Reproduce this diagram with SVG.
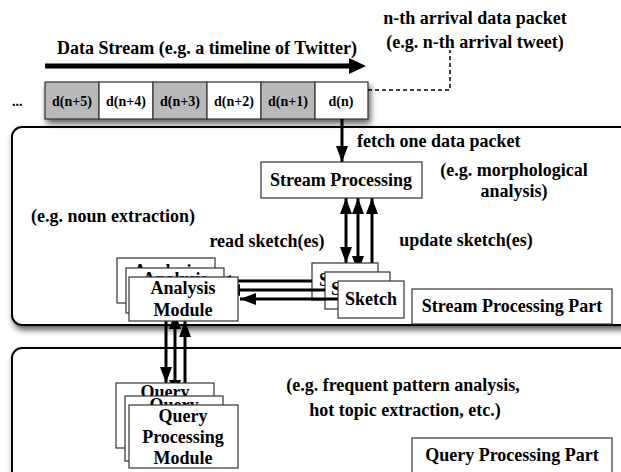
<svg xmlns="http://www.w3.org/2000/svg" width="621" height="472" viewBox="0 0 621 472">
<style>
text{font-family:"Liberation Serif","Times New Roman",serif;font-weight:bold;font-size:18px;fill:#000}
.c{text-anchor:middle}
.cell text{font-size:14px}
.box{fill:#fff;stroke:#333;stroke-width:1.2}
.gray{fill:#b9b9b9;stroke:#333;stroke-width:1.2}
.panel{fill:#fff;stroke:#000;stroke-width:2}
.ln{stroke:#000;stroke-width:3;fill:none}
</style>
<defs>
<filter id="sh" x="-5%" y="-10%" width="115%" height="140%">
<feGaussianBlur in="SourceAlpha" stdDeviation="3"/>
<feOffset dx="2" dy="4" result="o"/>
<feComponentTransfer><feFuncA type="linear" slope="0.65"/></feComponentTransfer>
<feMerge><feMergeNode/><feMergeNode in="SourceGraphic"/></feMerge>
</filter>
<marker id="ah" viewBox="0 0 16 12" refX="16" refY="6" markerWidth="16" markerHeight="12" markerUnits="userSpaceOnUse" orient="auto-start-reverse">
<path d="M0,0 L16,6 L0,12 z" fill="#000"/>
</marker>
</defs>

<!-- panels -->
<g id="stream-part-panel">
<rect class="panel" x="12" y="127" width="620" height="198" rx="10" filter="url(#sh)"/>
</g>
<g id="query-part-panel">
<rect class="panel" x="12" y="348" width="620" height="140" rx="10" filter="url(#sh)"/>
</g>

<!-- data stream header -->
<g id="data-stream">
<text x="57" y="54">Data Stream (e.g. a timeline of Twitter)</text>
<line x1="45" y1="66" x2="350" y2="66" stroke="#000" stroke-width="5"/>
<polygon points="349,58 366,66 349,74" fill="#000"/>
</g>

<g id="arrival-label">
<text class="c" x="475" y="24">n-th arrival data packet</text>
<text class="c" x="475" y="48">(e.g. n-th arrival tweet)</text>
</g>

<g id="cells" class="cell">
<text x="12" y="106">...</text>
<g filter="url(#sh)">
<rect class="gray" x="45" y="82" width="54" height="37"/>
<rect class="box" x="99" y="82" width="54" height="37"/>
<rect class="gray" x="153" y="82" width="54" height="37"/>
<rect class="box" x="207" y="82" width="54" height="37"/>
<rect class="gray" x="261" y="82" width="54" height="37"/>
<rect class="box" x="315" y="82" width="53" height="37"/>
</g>
<text class="c" x="72" y="106">d(n+5)</text>
<text class="c" x="126" y="106">d(n+4)</text>
<text class="c" x="180" y="106">d(n+3)</text>
<text class="c" x="234" y="106">d(n+2)</text>
<text class="c" x="288" y="106">d(n+1)</text>
<text class="c" x="341" y="106">d(n)</text>
</g>

<!-- connectors -->
<g id="connectors">
<path d="M368,90 H450 V50" fill="none" stroke="#000" stroke-width="1.5" stroke-dasharray="4,3"/>
<line class="ln" x1="342" y1="119" x2="342" y2="162" marker-end="url(#ah)"/>
<line class="ln" x1="346" y1="198" x2="346" y2="263" marker-start="url(#ah)" marker-end="url(#ah)"/>
<line class="ln" x1="358" y1="198" x2="358" y2="272" marker-start="url(#ah)" marker-end="url(#ah)"/>
<line class="ln" x1="372" y1="198" x2="372" y2="281" marker-start="url(#ah)" marker-end="url(#ah)"/>
</g>

<g id="labels">
<text x="357" y="147">fetch one data packet</text>
<text class="c" x="514" y="176">(e.g. morphological</text>
<text class="c" x="514" y="197">analysis)</text>
<text class="c" x="113" y="222">(e.g. noun extraction)</text>
<text class="c" x="267" y="247">read sketch(es)</text>
<text class="c" x="466" y="246">update sketch(es)</text>
<text class="c" x="403" y="391">(e.g. frequent pattern analysis,</text>
<text class="c" x="405" y="416">hot topic extraction, etc.)</text>
</g>

<g id="stream-processing">
<rect class="box" x="261" y="162" width="161" height="36"/>
<text class="c" x="341" y="186">Stream Processing</text>
</g>

<!-- sketch stack -->
<g id="sketch-1">
<rect class="box" x="312" y="263" width="66" height="37"/>
<text class="c" x="345" y="286">Sketch</text>
</g>
<g id="sketch-2">
<rect class="box" x="325" y="272" width="65" height="37"/>
<text class="c" x="357" y="295">Sketch</text>
</g>

<!-- analysis stack -->
<g id="analysis-1">
<rect class="box" x="117" y="258" width="98" height="45"/>
<text class="c" x="166" y="277">Analysis</text>
</g>
<g id="analysis-2">
<rect class="box" x="126" y="268" width="98" height="45"/>
<text class="c" x="175" y="285">Analysis</text>
</g>

<g id="connectors-2">
<line class="ln" x1="312" y1="281" x2="215" y2="281" marker-end="url(#ah)"/>
<line class="ln" x1="325" y1="290" x2="224" y2="290" marker-end="url(#ah)"/>
<line class="ln" x1="338" y1="299" x2="240" y2="299" marker-end="url(#ah)"/>
<line class="ln" x1="166" y1="303" x2="166" y2="383" marker-end="url(#ah)"/>
<line class="ln" x1="175" y1="313" x2="175" y2="396" marker-start="url(#ah)" marker-end="url(#ah)"/>
<line class="ln" x1="185" y1="321" x2="185" y2="405" marker-start="url(#ah)" marker-end="url(#ah)"/>
</g>

<g id="sketch-3">
<rect class="box" x="338" y="281" width="66" height="37"/>
<text class="c" x="371" y="305">Sketch</text>
</g>
<g id="analysis-3">
<rect class="box" x="129" y="277" width="109" height="44"/>
<text class="c" x="183" y="294">Analysis</text>
<text class="c" x="183" y="316">Module</text>
</g>

<g id="stream-processing-part">
<rect class="box" x="412" y="289" width="200" height="35"/>
<text class="c" x="512" y="312">Stream Processing Part</text>
</g>

<!-- query stack -->
<g id="query-1">
<rect class="box" x="116" y="383" width="98" height="65"/>
<text class="c" x="165" y="398">Query</text>
</g>
<g id="query-2">
<rect class="box" x="125" y="396" width="98" height="65"/>
<text class="c" x="174" y="411">Query</text>
</g>
<g id="query-3">
<rect class="box" x="129" y="405" width="109" height="63"/>
<text class="c" x="183" y="422">Query</text>
<text class="c" x="183" y="443">Processing</text>
<text class="c" x="183" y="464">Module</text>
</g>

<g id="query-processing-part">
<rect class="box" x="412" y="438" width="200" height="40"/>
<text class="c" x="512" y="461">Query Processing Part</text>
</g>
</svg>
